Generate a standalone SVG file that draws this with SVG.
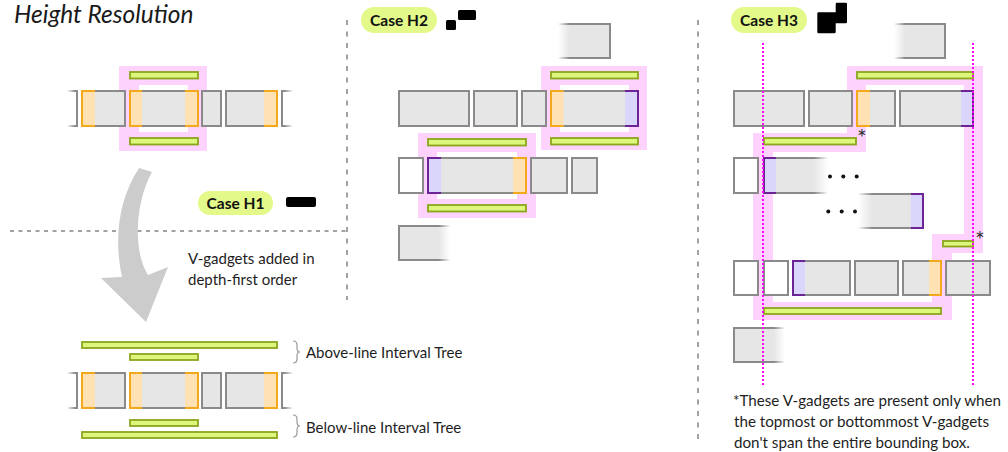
<svg xmlns="http://www.w3.org/2000/svg" width="1008" height="452" viewBox="0 0 1008 452">
<style>
.box{fill:#e6e6e6;stroke:#8a8a8a;stroke-width:2}
.wbox{fill:#fff;stroke:#8a8a8a;stroke-width:2}
.gbar{fill:#dcf77c;stroke:#8ba61c;stroke-width:1.8}
.pink{fill:#fdd3fd}
.white{fill:#fff}
.of{fill:#ffe1b3}
.os{fill:none;stroke:#f2a91c;stroke-width:2}
.pf{fill:#d9d5fb}
.ps{fill:none;stroke:#6b2396;stroke-width:2}
.pill{fill:#e3fa8a}
.txt{font-family:Lato,"Open Sans","Liberation Sans",sans-serif;font-size:15px;fill:#1e1e1e}
.case{font-family:Lato,"Open Sans","Liberation Sans",sans-serif;font-size:15.5px;font-weight:bold;fill:#111;text-anchor:middle}
.dash{fill:none;stroke:#444;stroke-width:1}
.mag{fill:none;stroke:#ff00ff;stroke-width:2;stroke-dasharray:2 2}
.dot{fill:#111}
.icon{fill:#000}
.star{font-family:Lato,"Open Sans","Liberation Sans",sans-serif;font-size:23px;fill:#333;text-anchor:middle}
</style>
<defs>
<linearGradient id="fL" x1="0" y1="0" x2="1" y2="0"><stop offset="0" stop-color="#e6e6e6" stop-opacity="0"/><stop offset="0.22" stop-color="#e6e6e6" stop-opacity="1"/></linearGradient>
<linearGradient id="sL" x1="0" y1="0" x2="1" y2="0"><stop offset="0" stop-color="#8a8a8a" stop-opacity="0"/><stop offset="0.22" stop-color="#8a8a8a" stop-opacity="1"/></linearGradient>
<linearGradient id="fR" x1="0" y1="0" x2="1" y2="0"><stop offset="0.78" stop-color="#e6e6e6" stop-opacity="1"/><stop offset="1" stop-color="#e6e6e6" stop-opacity="0"/></linearGradient>
<linearGradient id="sR" x1="0" y1="0" x2="1" y2="0"><stop offset="0.78" stop-color="#8a8a8a" stop-opacity="1"/><stop offset="1" stop-color="#8a8a8a" stop-opacity="0"/></linearGradient>
<linearGradient id="sL2" x1="0" y1="0" x2="1" y2="0"><stop offset="0" stop-color="#8a8a8a" stop-opacity="0"/><stop offset="0.8" stop-color="#8a8a8a" stop-opacity="1"/></linearGradient>
<linearGradient id="sR2" x1="0" y1="0" x2="1" y2="0"><stop offset="0.2" stop-color="#8a8a8a" stop-opacity="1"/><stop offset="1" stop-color="#8a8a8a" stop-opacity="0"/></linearGradient>
</defs>

<rect width="1008" height="452" fill="#fff"/>

<text x="14" y="23" style="font-family:Lato,'Open Sans',sans-serif;font-size:24.5px;font-style:italic;fill:#1a1a1a">Height Resolution</text>

<g id="connectors">
  <path class="dash" d="M10,231 H347" stroke-dasharray="4 4.5"/>
  <path class="dash" d="M347,20 V300" stroke-dasharray="5 6.5"/>
  <path class="dash" d="M698,20 V442" stroke-dasharray="5 6.5"/>
  <path d="M139,168 L152,172 C136,200 132,250 148,275 L168,267 L146,322 L101,278 L122,277 C114,240 118,200 139,168 Z" fill="#cccccc"/>
</g>

<!-- ===== Case H1 (top) ===== -->
<g id="h1-top">
  <rect class="pink" x="119" y="66" width="88" height="85"/>
  <rect class="white" x="139" y="85" width="49" height="47"/>
  <rect class="gbar" x="130" y="72" width="68" height="6.5"/>
  <rect class="gbar" x="130" y="138" width="68" height="6.5"/>
  <path d="M67,91 H77 V126 H67" fill="none" stroke="url(#sL2)" stroke-width="2"/>
  <rect class="box" x="82" y="91" width="43" height="35"/>
  <rect class="of" x="82" y="91" width="13" height="35"/><path class="os" d="M95,91 H82 V126 H95"/>
  <rect class="box" x="130" y="91" width="68" height="35"/>
  <rect class="of" x="130" y="91" width="12" height="35"/><path class="os" d="M142,91 H130 V126 H142"/>
  <rect class="of" x="185" y="91" width="13" height="35"/><path class="os" d="M185,91 H198 V126 H185"/>
  <rect class="box" x="202" y="91" width="19" height="35"/>
  <rect class="box" x="226" y="91" width="51" height="35"/>
  <rect class="of" x="264" y="91" width="13" height="35"/><path class="os" d="M264,91 H277 V126 H264"/>
  <path d="M293,91 H282 V126 H293" fill="none" stroke="url(#sR2)" stroke-width="2"/>
</g>

<g id="case-h1">
  <rect class="pill" x="198" y="191" width="75" height="24" rx="12"/>
  <text class="case" x="235.5" y="208.5">Case H1</text>
  <rect class="icon" x="286" y="197" width="30" height="10" rx="2"/>
</g>

<g id="h1-note">
  <text class="txt" x="188" y="264">V-gadgets added in</text>
  <text class="txt" x="188" y="285">depth-first order</text>
</g>

<!-- ===== Case H1 (bottom) ===== -->
<g id="h1-bottom">
  <rect class="gbar" x="82" y="342" width="195" height="6"/>
  <rect class="gbar" x="130" y="354" width="68" height="6"/>
  <path d="M67,373 H77 V408 H67" fill="none" stroke="url(#sL2)" stroke-width="2"/>
  <rect class="box" x="82" y="373" width="43" height="35"/>
  <rect class="of" x="82" y="373" width="13" height="35"/><path class="os" d="M95,373 H82 V408 H95"/>
  <rect class="box" x="130" y="373" width="68" height="35"/>
  <rect class="of" x="130" y="373" width="12" height="35"/><path class="os" d="M142,373 H130 V408 H142"/>
  <rect class="of" x="185" y="373" width="13" height="35"/><path class="os" d="M185,373 H198 V408 H185"/>
  <rect class="box" x="202" y="373" width="19" height="35"/>
  <rect class="box" x="226" y="373" width="51" height="35"/>
  <rect class="of" x="264" y="373" width="13" height="35"/><path class="os" d="M264,373 H277 V408 H264"/>
  <path d="M293,373 H282 V408 H293" fill="none" stroke="url(#sR2)" stroke-width="2"/>
  <rect class="gbar" x="130" y="420" width="68" height="6"/>
  <rect class="gbar" x="82" y="432" width="195" height="6"/>
</g>

<g id="tree-labels">
  <path d="M293,341 Q297,341 297,345 V348 Q297,352 300,352 Q297,352 297,356 V359 Q297,363 293,363" fill="none" stroke="#999" stroke-width="1.2"/>
  <text class="txt" x="306" y="358">Above-line Interval Tree</text>
  <path d="M293,415 Q297,415 297,419 V422 Q297,426 300,426 Q297,426 297,430 V433 Q297,437 293,437" fill="none" stroke="#999" stroke-width="1.2"/>
  <text class="txt" x="306" y="433">Below-line Interval Tree</text>
</g>

<!-- ===== Case H2 ===== -->
<g id="case-h2">
  <rect class="pill" x="361" y="7" width="76" height="26" rx="13"/>
  <text class="case" x="399" y="26">Case H2</text>
  <rect class="icon" x="446" y="20" width="10" height="10" rx="1.5"/>
  <rect class="icon" x="458" y="10" width="18" height="10" rx="1.5"/>
</g>

<g id="h2-nodes">
  <rect class="pink" x="541" y="66" width="106" height="84"/>
  <rect class="white" x="560" y="85" width="69" height="47"/>
  <rect class="pink" x="418" y="133" width="118" height="85"/>
  <rect class="white" x="437" y="152" width="80" height="47"/>

  <rect x="558" y="24" width="52" height="34" fill="url(#fL)"/>
  <path d="M558,24 H610 V58 H558" fill="none" stroke="url(#sL)" stroke-width="2"/>

  <rect class="gbar" x="551" y="72" width="87" height="6.5"/>
  <rect class="gbar" x="551" y="138" width="87" height="6.5"/>

  <rect class="box" x="399" y="91" width="70" height="35"/>
  <rect class="box" x="474" y="91" width="43" height="35"/>
  <rect class="box" x="522" y="91" width="24" height="35"/>
  <rect class="box" x="551" y="91" width="87" height="35"/>
  <rect class="of" x="551" y="91" width="12.5" height="35"/><path class="os" d="M563.5,91 H551 V126 H563.5"/>
  <rect class="pf" x="625" y="91" width="13" height="35"/><path class="ps" d="M625,91 H638 V126 H625"/>

  <rect class="gbar" x="428" y="139" width="98" height="6.5"/>
  <rect class="gbar" x="428" y="205" width="98" height="6.5"/>

  <rect class="wbox" x="399" y="158" width="24" height="35"/>
  <rect class="box" x="428" y="158" width="98" height="35"/>
  <rect class="pf" x="428" y="158" width="13" height="35"/><path class="ps" d="M441,158 H428 V193 H441"/>
  <rect class="of" x="513" y="158" width="13" height="35"/><path class="os" d="M513,158 H526 V193 H513"/>
  <rect class="box" x="531" y="158" width="36" height="35"/>
  <rect class="box" x="572" y="158" width="25" height="35"/>

  <rect x="399" y="226" width="51" height="34" fill="url(#fR)"/>
  <path d="M450,226 H399 V260 H450" fill="none" stroke="url(#sR)" stroke-width="2"/>
</g>

<!-- ===== Case H3 ===== -->
<g id="case-h3">
  <rect class="pill" x="731" y="7" width="76" height="26" rx="13"/>
  <text class="case" x="769" y="26">Case H3</text>
  <path class="icon" d="M818.5,12.3 H835.7 V4 Q835.7,2.7 837,2.7 H845.7 Q847,2.7 847,4 V22 Q847,23.3 845.7,23.3 H835.7 V32 Q835.7,33.3 834.4,33.3 H818.5 Q817.3,33.3 817.3,32 V13.6 Q817.3,12.3 818.5,12.3 Z"/>
</g>

<g id="h3-nodes">
  <path class="pink" d="M847,66 H983 V253 H952 V320 H753 V133 H847 Z"/>
  <path class="white" d="M866,85 H964 V234 H932 V302 H773 V152 H866 Z"/>

  <rect x="894" y="24" width="51" height="34" fill="url(#fL)"/>
  <path d="M894,24 H945 V58 H894" fill="none" stroke="url(#sL)" stroke-width="2"/>

  <rect class="gbar" x="857" y="72" width="116" height="6.5"/>

  <rect class="box" x="734" y="91" width="70" height="35"/>
  <rect class="box" x="809" y="91" width="43" height="35"/>
  <rect class="box" x="857" y="91" width="38" height="35"/>
  <rect class="of" x="857" y="91" width="13" height="35"/><path class="os" d="M870,91 H857 V126 H870"/>
  <rect class="box" x="900" y="91" width="73" height="35"/>
  <rect class="pf" x="961" y="91" width="12" height="35"/><path class="ps" d="M961,91 H973 V126 H961"/>

  <text class="star" x="862" y="146">*</text>
  <rect class="gbar" x="764" y="138" width="92" height="6.5"/>

  <rect class="wbox" x="734" y="158" width="24" height="35"/>
  <rect x="764" y="158" width="64" height="35" fill="url(#fR)"/>
  <path d="M828,158 H764 V193 H828" fill="none" stroke="url(#sR)" stroke-width="2"/>
  <rect class="pf" x="764" y="158" width="12" height="35"/><path class="ps" d="M776,158 H764 V193 H776"/>
  <circle class="dot" cx="830" cy="176.5" r="2"/><circle class="dot" cx="843.3" cy="176.5" r="2"/><circle class="dot" cx="856.7" cy="176.5" r="2"/>

  <circle class="dot" cx="828.3" cy="211.5" r="2"/><circle class="dot" cx="841.7" cy="211.5" r="2"/><circle class="dot" cx="855" cy="211.5" r="2"/>
  <rect x="858" y="194" width="65" height="34" fill="url(#fL)"/>
  <path d="M858,194 H923 V228 H858" fill="none" stroke="url(#sL)" stroke-width="2"/>
  <rect class="pf" x="911" y="194" width="12" height="34"/><path class="ps" d="M911,194 H923 V228 H911"/>

  <rect class="gbar" x="943" y="241" width="30" height="5.5"/>
  <text class="star" x="980" y="248">*</text>

  <rect class="wbox" x="734" y="261" width="24" height="34"/>
  <rect class="wbox" x="764" y="261" width="24" height="34"/>
  <rect class="box" x="793" y="261" width="57" height="34"/>
  <rect class="pf" x="793" y="261" width="12" height="34"/><path class="ps" d="M805,261 H793 V295 H805"/>
  <rect class="box" x="855" y="261" width="43" height="34"/>
  <rect class="box" x="903" y="261" width="38" height="34"/>
  <rect class="of" x="929" y="261" width="12" height="34"/><path class="os" d="M929,261 H941 V295 H929"/>
  <rect class="box" x="946" y="261" width="44" height="34"/>

  <rect class="gbar" x="764" y="308" width="177" height="6"/>

  <rect x="734" y="328" width="51" height="34" fill="url(#fR)"/>
  <path d="M785,328 H734 V362 H785" fill="none" stroke="url(#sR)" stroke-width="2"/>

  <path class="mag" d="M763,43 V387"/>
  <path class="mag" d="M973,43 V387"/>
</g>

<g id="footnote">
  <text class="txt" x="733" y="405.5" style="font-size:15.2px">*These V-gadgets are present only when</text>
  <text class="txt" x="734" y="426.5" style="font-size:15.2px">the topmost or bottommost V-gadgets</text>
  <text class="txt" x="734" y="447.5" style="font-size:15.2px">don't span the entire bounding box.</text>
</g>
</svg>
